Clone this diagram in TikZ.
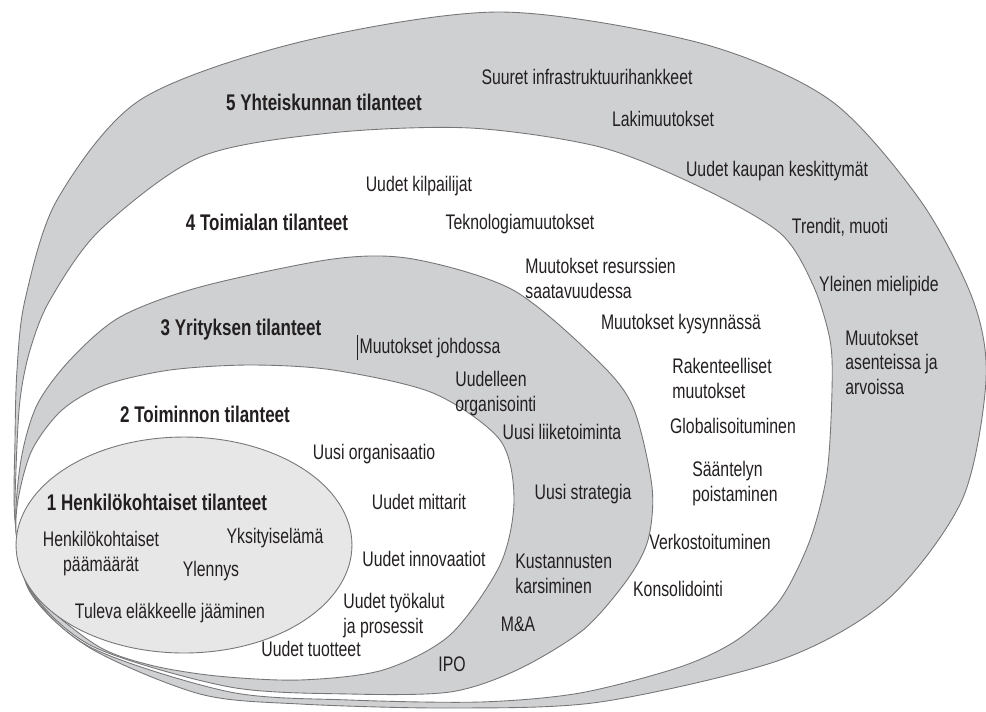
\documentclass[tikz,border=0pt]{standalone}
\usepackage{fontspec}
\setmainfont{Liberation Sans}[FakeStretch=0.75]
\usepackage{xcolor}

\definecolor{ringgray}{RGB}{207,208,210}
\definecolor{coregray}{RGB}{231,231,232}
\definecolor{ringline}{RGB}{118,118,120}
\definecolor{inktext}{RGB}{35,31,32}

\tikzset{
  ring/.style={draw=ringline, line width=0.5pt},
  title/.style={font=\fontsize{12.9}{15}\selectfont\bfseries, text=inktext, inner sep=0pt, anchor=base},
  item/.style={font=\fontsize{12}{13.9}\selectfont, text=inktext, inner sep=0pt, anchor=base},
  block/.style={item, align=left, anchor=base west},
}

\begin{document}
\begin{tikzpicture}[x=0.02cm, y=-0.02cm]
\useasboundingbox (0,0) rectangle (986,711);

% Rings, outermost first
\filldraw[ring, fill=ringgray] plot[smooth cycle] coordinates {
  (15,440) (17,370) (25,300) (57,200) (140,100) (300,42) (500,12) (700,43)
  (830,100) (920,200) (973,300) (986,380) (962,500) (887,600) (780,660)
  (600,702) (450,708) (300,704) (200,694) (90,648) (30,592) (15,520)};
\filldraw[ring, fill=white] plot[smooth cycle] coordinates {
  (16,470) (20,400) (30,350) (50,300) (100,230) (200,157) (330,133) (470,128)
  (600,147) (700,187) (780,233) (813,285) (830,340) (832,390) (827,473)
  (810,540) (780,600) (737,640) (680,667) (580,693) (480,702) (350,700)
  (230,692) (92,648) (31,592) (16,530)};
\filldraw[ring, fill=ringgray] plot[smooth cycle] coordinates {
  (21,460) (37,405) (70,360) (120,317) (200,287) (333,259) (413,259) (513,290)
  (597,360) (633,407) (652,487) (648,540) (627,580) (583,630) (517,670)
  (450,692) (350,694) (230,687) (94,647) (32,592) (16,530)};
\filldraw[ring, fill=white] plot[smooth cycle] coordinates {
  (32,450) (62,410) (105,385) (170,370) (250,365) (333,370) (433,393)
  (500,440) (514,500) (500,565) (450,635) (383,670) (300,680) (217,676)
  (150,665) (96,645) (33,592) (17,540) (18,500)};
\filldraw[ring, fill=coregray] (184,545) ellipse [x radius=3.36cm, y radius=2.16cm];

% Ring titles
\node[title] (t5) at (324,110) {5 Yhteiskunnan tilanteet};
\node[title] (t4) at (267,230) {4 Toimialan tilanteet};
\node[title] (t3) at (241,335) {3 Yrityksen tilanteet};
\node[title] (t2) at (205,422) {2 Toiminnon tilanteet};
\node[title] (t1) at (157,510) {1 Henkilökohtaiset tilanteet};

% 1 Henkilökohtaiset
\node[item, align=center] (paamaarat) at (101,571) {Henkilökohtaiset\\päämäärät};
\node[item] (yksityis) at (275,543) {Yksityiselämä};
\node[item] (ylennys) at (211,576) {Ylennys};
\node[item] (elake) at (170,618) {Tuleva eläkkeelle jääminen};

% 2 Toiminnon
\node[item] (organisaatio) at (374,459) {Uusi organisaatio};
\node[item] (mittarit) at (419,509) {Uudet mittarit};
\node[item] (innovaatiot) at (424,566) {Uudet innovaatiot};
\node[block] (tyokalut) at (343,633) {Uudet työkalut\\ja prosessit};
\node[item] (tuotteet) at (311,656) {Uudet tuotteet};

% 3 Yrityksen
\node[item] (johdossa) at (430,353) {Muutokset johdossa};
\draw[inktext, line width=0.5pt] ([xshift=-1.2pt, yshift=-4pt]johdossa.base west)
  -- ([xshift=-1.2pt, yshift=10pt]johdossa.base west);
\node[block] (uudelleen) at (455,411) {Uudelleen\\organisointi};
\node[item] (liiketoiminta) at (562,439) {Uusi liiketoiminta};
\node[item] (strategia) at (583,499) {Uusi strategia};
\node[block] (kustannukset) at (515,593) {Kustannusten\\karsiminen};
\node[item] (ma) at (518,631) {M\&A};
\node[item] (ipo) at (452,671) {IPO};

% 4 Toimialan
\node[item] (kilpailijat) at (419,191) {Uudet kilpailijat};
\node[item] (teknologia) at (520,229) {Teknologiamuutokset};
\node[block] (resurssit) at (525,298) {Muutokset resurssien\\saatavuudessa};
\node[item] (kysynta) at (681,329) {Muutokset kysynnässä};
\node[block] (rakenne) at (672,398) {Rakenteelliset\\muutokset};
\node[item] (global) at (733,433) {Globalisoituminen};
\node[block] (saantely) at (692,501) {Sääntelyn\\poistaminen};
\node[item] (verkosto) at (710,549) {Verkostoituminen};
\node[item] (konsolidointi) at (678,596) {Konsolidointi};

% 5 Yhteiskunnan
\node[item] (infra) at (587,84) {Suuret infrastruktuurihankkeet};
\node[item] (laki) at (663,126) {Lakimuutokset};
\node[item] (kauppa) at (777,176) {Uudet kaupan keskittymät};
\node[item] (trendit) at (840,233) {Trendit, muoti};
\node[item] (mielipide) at (879,291) {Yleinen mielipide};
\node[block] (asenteet) at (845,394) {Muutokset\\asenteissa ja\\arvoissa};
\end{tikzpicture}
\end{document}
